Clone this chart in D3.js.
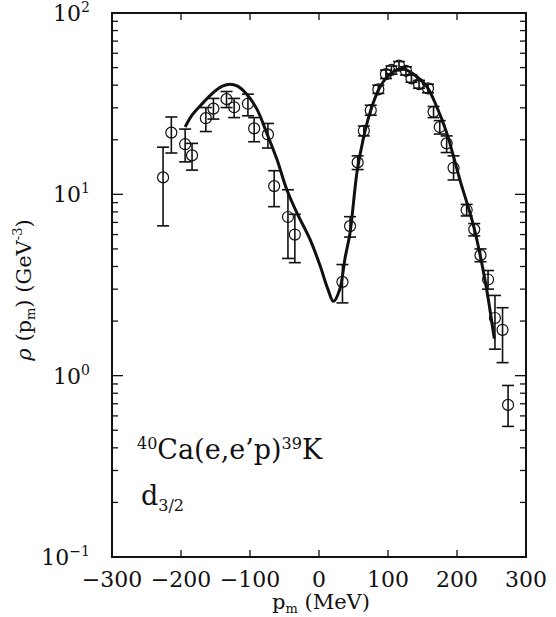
<!DOCTYPE html>
<html>
<head>
<meta charset="utf-8">
<script src="https://cdn.jsdelivr.net/npm/d3@7"></script>
<style>
    body { margin: 0; background: #fff; }
    text { font-family: "DejaVu Serif", "Liberation Serif", serif; fill: #111; }
</style>
</head>
<body>
<script>
// Momentum distribution, 40Ca(e,e'p)39K, d3/2 state.
// Values; log y axis.
var tickX = [-300, -200, -100, 0, 100, 200, 300];
var tickYExp = [-1, 0, 1, 2];

// data points: missing momentum, rho and error bar ends
var dataP   = [-226, -214, -194, -184, -164, -153, -134, -123, -103, -94,
               -74, -65, -45, -35, 34, 45, 56, 65, 75, 86, 97, 105, 116,
               126, 134, 145, 158, 166, 175, 185, 195, 214, 225, 234, 245,
               255, 266, 274];
var dataRho = [12.4, 21.9, 18.9, 16.4, 26.3, 29.7, 33.5, 30.2, 31.6, 23.1,
               21.4, 11.1, 7.5, 6.0, 3.29, 6.68, 15.0, 22.4, 29.1, 37.9,
               46.0, 48.6, 51.2, 48.0, 43.6, 40.5, 38.4, 28.5, 23.5, 19.1,
               14.0, 8.19, 6.41, 4.62, 3.39, 2.08, 1.79, 0.69];
var errHi   = [18.2, 26.7, 22.9, 19.1, 30.1, 33.8, 36.9, 33.8, 35.7, 26.5,
               24.6, 13.5, 10.6, 7.76, 4.1, 7.53, 16.3, 23.8, 31.0, 40.0,
               48.5, 51.0, 54.0, 50.5, 45.5, 42.5, 40.5, 30.5, 25.5, 21.0,
               16.3, 8.8, 6.9, 5.0, 3.8, 2.77, 2.37, 0.883];
var errLo   = [6.7, 16.9, 15.1, 13.6, 22.2, 26.0, 30.1, 26.5, 27.1, 19.5,
               18.0, 8.55, 4.43, 4.2, 2.52, 5.81, 13.7, 21.0, 27.3, 36.0,
               43.5, 46.0, 48.5, 45.5, 41.5, 38.5, 36.3, 26.5, 21.5, 17.0,
               12.0, 7.6, 5.9, 4.25, 3.0, 1.40, 1.18, 0.525];

// theory curve
var curveP   = [-194, -185, -172, -153, -140, -129, -118, -105, -90, -76,
                -61, -47, -32, -13, 1, 13, 21, 30, 38, 45, 55, 64, 74, 88,
                103, 120, 137, 156, 170, 185, 204, 224, 241, 254];
var curveRho = [23.5, 27, 30.8, 36.5, 39.5, 40.5, 39.5, 35.7, 29.5, 21.9,
                15.6, 10.7, 7.9, 5.64, 4.1, 2.99, 2.57, 2.99, 4.5, 6.14,
                13.2, 20.1, 28.3, 38.8, 46, 49.5, 46, 39.4, 30.8, 21.9,
                12.1, 6.7, 3.3, 1.6];

var margin = {top: 13, right: 30, bottom: 60, left: 112},
    width = 556 - margin.left - margin.right,
    height = 617 - margin.top - margin.bottom;

var svg = d3.select("body").append("svg")
    .attr("width", 556)
    .attr("height", 617);

var g = svg.append("g")
    .attr("transform", "translate(" + margin.left + "," + margin.top + ")");

var xScale = d3.scaleLinear().domain([-300, 300]).range([0, width]);
var yScale = d3.scaleLog().domain([0.1, 100]).range([height, 0]);

// minor ticks 2..9 in every decade
var minorY = [];
tickYExp.slice(0, 3).forEach(function(e) {
    for (var k = 2; k <= 9; k++) minorY.push(k * Math.pow(10, e));
});
var majorY = tickYExp.map(function(e) { return Math.pow(10, e); });

// inner ticks on all four sides
var ticks = g.append("g").attr("stroke", "#111").attr("stroke-width", 1.3);
xScale.ticks(6).filter(function(d) { return d > -300 && d < 300; })
    .forEach(function(d) {
        var x = xScale(d);
        ticks.append("line").attr("x1", x).attr("x2", x)
            .attr("y1", height).attr("y2", height - 7);
        ticks.append("line").attr("x1", x).attr("x2", x)
            .attr("y1", 0).attr("y2", 7);
    });
minorY.concat(majorY).forEach(function(d) {
    var y = yScale(d);
    var len = majorY.indexOf(d) >= 0 ? 11 : 6;
    ticks.append("line").attr("x1", 0).attr("x2", len)
        .attr("y1", y).attr("y2", y);
    ticks.append("line").attr("x1", width).attr("x2", width - len)
        .attr("y1", y).attr("y2", y);
});

// frame
g.append("rect")
    .attr("width", width).attr("height", height)
    .attr("fill", "none").attr("stroke", "#111").attr("stroke-width", 2);

// x tick labels
g.selectAll(".xlab")
    .data(tickX)
    .enter()
    .append("text")
    .attr("class", "xlab")
    .attr("x", function(d) { return xScale(d); })
    .attr("y", height + 30)
    .style("text-anchor", "middle")
    .style("font-size", "22px")
    .text(function(d) { return d < 0 ? "\u2212" + (-d) : d; });

// y tick labels 10^n
var ylab = g.selectAll(".ylab")
    .data(tickYExp)
    .enter()
    .append("text")
    .attr("class", "ylab")
    .attr("x", -22)
    .attr("y", function(d) { return yScale(Math.pow(10, d)) + 8; })
    .style("text-anchor", "end")
    .style("font-size", "22px");
ylab.append("tspan").text("10");
ylab.append("tspan")
    .attr("dy", -9)
    .style("font-size", "14px")
    .text(function(d) { return d < 0 ? "\u2212" + (-d) : d; });

// axis titles
var xt = g.append("text")
    .attr("x", width / 2 + 2)
    .attr("y", height + 52)
    .style("text-anchor", "middle")
    .style("font-size", "21px");
xt.append("tspan").text("p");
xt.append("tspan").attr("dy", 4).style("font-size", "13px").text("m");
xt.append("tspan").attr("dy", -4).text(" (MeV)");

var yt = svg.append("text")
    .attr("transform", "translate(31," + 290 + ") rotate(-90)")
    .style("text-anchor", "middle")
    .style("font-size", "21px");
yt.append("tspan").style("font-style", "italic").text("\u03c1");
yt.append("tspan").text(" (p");
yt.append("tspan").attr("dy", 4).style("font-size", "13px").text("m");
yt.append("tspan").attr("dy", -4).text(") (GeV");
yt.append("tspan").attr("dy", -9).style("font-size", "13px").text("-3");
yt.append("tspan").attr("dy", 9).text(")");

// annotation
var an = g.append("text")
    .attr("x", 25).attr("y", 446)
    .style("font-size", "27px");
an.append("tspan").attr("dy", -10).style("font-size", "16px").text("40");
an.append("tspan").attr("dy", 10).text("Ca(e,e\u2019p)");
an.append("tspan").attr("dy", -10).style("font-size", "16px").text("39");
an.append("tspan").attr("dy", 10).text("K");

var an2 = g.append("text")
    .attr("x", 29).attr("y", 492)
    .style("font-size", "27px");
an2.append("tspan").text("d");
an2.append("tspan").attr("dy", 6).style("font-size", "16px").text("3/2");

// theory curve
var curve = curveP.map(function(p, i) { return [p, curveRho[i]]; });
var line = d3.line()
    .x(function(d) { return xScale(d[0]); })
    .y(function(d) { return yScale(d[1]); })
    .curve(d3.curveCatmullRom.alpha(0.5));
g.append("path")
    .datum(curve)
    .attr("d", line)
    .attr("fill", "none")
    .attr("stroke", "#111")
    .attr("stroke-width", 3);

// data points with error bars
var pts = dataP.map(function(p, i) {
    return {p: p, v: dataRho[i], hi: errHi[i], lo: errLo[i]};
});
var eb = g.append("g").attr("stroke", "#111").attr("stroke-width", 1.6);
pts.forEach(function(d) {
    var x = xScale(d.p);
    eb.append("line").attr("x1", x).attr("x2", x)
        .attr("y1", yScale(d.hi)).attr("y2", yScale(d.lo));
    eb.append("line").attr("x1", x - 6).attr("x2", x + 6)
        .attr("y1", yScale(d.hi)).attr("y2", yScale(d.hi));
    eb.append("line").attr("x1", x - 6).attr("x2", x + 6)
        .attr("y1", yScale(d.lo)).attr("y2", yScale(d.lo));
});
g.selectAll("circle")
    .data(pts)
    .enter()
    .append("circle")
    .attr("cx", function(d) { return xScale(d.p); })
    .attr("cy", function(d) { return yScale(d.v); })
    .attr("r", 5.5)
    .attr("fill", "none")
    .attr("stroke", "#111")
    .attr("stroke-width", 1.2);
</script>
</body>
</html>
